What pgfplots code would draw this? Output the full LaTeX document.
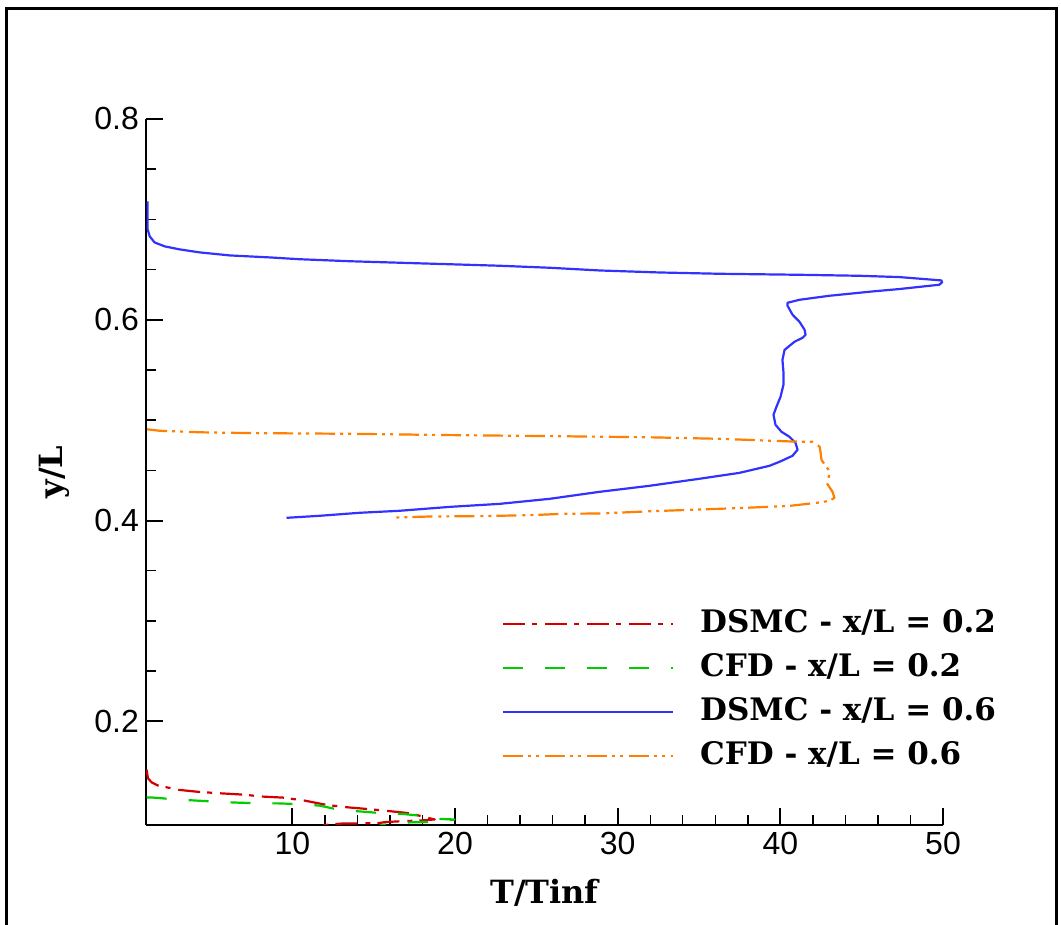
\documentclass[border=0pt]{standalone}
\usepackage{fontspec}
\setmainfont{DejaVu Serif}
\setsansfont{Liberation Sans}
\usepackage{pgfplots}
\pgfplotsset{compat=1.18}
\definecolor{redln}{RGB}{210,0,0}
\definecolor{greenln}{RGB}{0,205,0}
\definecolor{blueln}{RGB}{50,50,255}
\definecolor{orangeln}{RGB}{255,128,0}
\pgfplotsset{
  dsmcA/.style={redln,line width=1.1pt,dash pattern=on 11pt off 3.5pt on 2.5pt off 4pt},
  cfdA/.style={greenln,line width=1.1pt,dash pattern=on 10pt off 11pt},
  dsmcB/.style={blueln,line width=1.1pt,solid},
  cfdB/.style={orangeln,line width=1.1pt,dash pattern=on 10pt off 2.5pt on 1.5pt off 2.5pt on 1.5pt off 3pt},
}
\begin{document}
\begin{tikzpicture}
\useasboundingbox (0,0) rectangle (530.5pt,462.5pt);
\draw[line width=1.5pt] (3pt,-2pt) -- (3pt,458pt) -- (528pt,458pt) -- (528pt,-2pt);
\begin{axis}[at={(73pt,50pt)},anchor=south west,scale only axis,
  width=398.5pt,height=353pt,
  xmin=1,xmax=50,ymin=0.0967,ymax=0.8,
  axis x line=bottom,axis y line=left,axis line style={-,line width=1.3pt},
  tick align=inside,
  xtick={10,20,30,40,50},minor x tick num=4,
  ytick={0.2,0.4,0.6,0.8},minor y tick num=3,
  major tick length=8.5pt,minor tick length=5pt,
  every tick/.style={black,line width=1pt},
  minor tick style={line width=0.7pt},
  /pgf/number format/assume math mode=true,
  yticklabel style={/pgf/number format/fixed,/pgf/number format/precision=1,/pgf/number format/fixed zerofill},
  ticklabel style={font=\sffamily\fontsize{16}{16}\selectfont},
  xlabel={T/Tinf},ylabel={y/L},
  label style={font=\bfseries\fontsize{16}{16}\selectfont},
  xlabel style={at={(axis description cs:0.5,0)},anchor=center,yshift=-34pt},
  ylabel style={at={(axis description cs:0,0.5)},anchor=center,yshift=46pt},
  legend cell align=left,
  legend image code/.code={\draw[#1] (0pt,0pt) -- (85pt,0pt);},
  legend style={draw=none,fill=none,at={(axis description cs:0.4467,0.3045)},anchor=north west,
    inner sep=0pt,outer sep=0pt,row sep=7.7pt,column sep=13pt,
    font=\bfseries\fontsize{15.5}{18}\selectfont,
    nodes={inner sep=0pt,text height=11.3pt,text depth=3pt}},
  line join=round]
\addplot[dsmcA] coordinates {
(1.04,0.1518)(1.12,0.1433)(1.35,0.1391)(1.72,0.1361)(2.25,0.1343)(3.07,0.1316)
(4.30,0.1296)(5.53,0.1283)(6.94,0.1270)(8.17,0.1250)(9.40,0.1240)(10.75,0.1210)
(12.10,0.1167)(13.33,0.1144)(14.56,0.1127)(15.86,0.1107)(17.21,0.1084)(18.44,0.1034)
(18.75,0.1022)(17.70,0.1010)(17.02,0.1007)(15.79,0.0997)(15.18,0.0984)(13.09,0.0982)
(11.67,0.0962)
};
\addlegendentry{DSMC - x/L = 0.2}
\addplot[cfdA] coordinates {
(1.04,0.1242)(1.43,0.1240)(2.66,0.1224)(4.10,0.1210)(5.22,0.1200)(6.56,0.1190)
(7.79,0.1184)(9.22,0.1182)(10.45,0.1174)(11.67,0.1160)(12.91,0.1117)(14.32,0.1100)
(15.55,0.1084)(16.78,0.1077)(18.01,0.1057)(19.05,0.1027)(19.97,0.1022)(19.05,0.1002)
(17.64,0.0994)(16.47,0.0991)(15.36,0.0962)
};
\addlegendentry{CFD - x/L = 0.2}
\addplot[dsmcB] coordinates {
(1.10,0.7180)(1.10,0.6900)(1.23,0.6830)(1.53,0.6770)(2.15,0.6731)(3.07,0.6701)
(4.30,0.6671)(6.14,0.6641)(8.60,0.6621)(10.45,0.6603)(13.52,0.6583)(16.59,0.6568)
(19.67,0.6553)(22.74,0.6538)(25.81,0.6518)(28.89,0.6491)(32.57,0.6471)(36.26,0.6458)
(41.18,0.6448)(44.86,0.6438)(47.32,0.6425)(49.89,0.6392)(49.95,0.6375)(49.78,0.6349)
(47.32,0.6306)(45.66,0.6282)(43.02,0.6239)(41.18,0.6199)(40.44,0.6169)(40.44,0.6140)
(40.75,0.6050)(41.18,0.5979)(41.49,0.5900)(41.55,0.5850)(41.36,0.5820)(40.87,0.5781)
(40.26,0.5700)(40.13,0.5601)(40.19,0.5481)(40.19,0.5351)(40.01,0.5232)(39.76,0.5133)
(39.58,0.5054)(39.70,0.4954)(40.07,0.4884)(40.56,0.4834)(40.93,0.4774)(41.06,0.4705)
(40.75,0.4645)(39.95,0.4585)(39.33,0.4545)(37.49,0.4475)(35.03,0.4416)(31.96,0.4346)
(28.89,0.4286)(25.81,0.4216)(22.74,0.4166)(19.67,0.4136)(16.59,0.4097)(14.13,0.4077)
(11.67,0.4047)(9.64,0.4027)
};
\addlegendentry{DSMC - x/L = 0.6}
\addplot[cfdB] coordinates {
(1.07,0.4909)(1.84,0.4894)(4.30,0.4879)(7.37,0.4871)(13.52,0.4864)(19.67,0.4851)
(25.81,0.4841)(31.96,0.4829)(36.26,0.4814)(38.72,0.4799)(40.75,0.4787)(41.98,0.4784)
(42.41,0.4737)(42.47,0.4685)(42.53,0.4604)(42.96,0.4505)(43.02,0.4455)(42.84,0.4376)
(43.20,0.4289)(43.33,0.4226)(43.02,0.4196)(42.22,0.4176)(40.56,0.4146)(37.49,0.4124)
(31.96,0.4092)(28.89,0.4070)(26.61,0.4067)(24.77,0.4054)(21.69,0.4044)(18.44,0.4040)
(16.29,0.4030)
};
\addlegendentry{CFD - x/L = 0.6}
\end{axis}
\end{tikzpicture}
\end{document}
